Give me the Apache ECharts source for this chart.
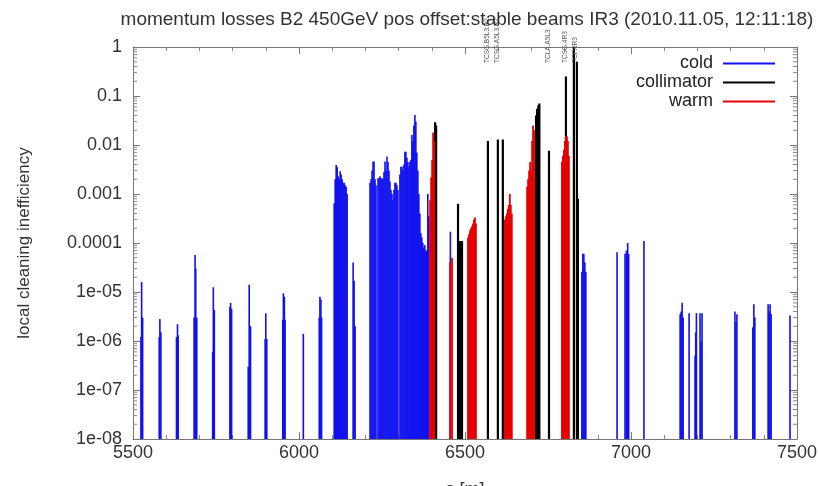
<!DOCTYPE html>
<html>
<head>
<meta charset="utf-8">
<script src="https://cdn.jsdelivr.net/npm/echarts@6/dist/echarts.min.js"></script>
<style>
	html,body{margin:0;padding:0;background:#fff;}
	#main{width:819px;height:486px;}
</style>
</head>
<body>
<div id="main"></div>
<script>
var titleText = 'momentum losses B2 450GeV pos offset:stable beams IR3 (2010.11.05, 12:11:18)';
var xTicks = [5500, 6000, 6500, 7000, 7500];
var yTickLabels = ['1e-08', '1e-07', '1e-06', '1e-05', '0.0001', '0.001', '0.01', '0.1', '1'];

// [s, inefficiency]
var cold = [
	[5524,1.2e-6],[5526,1.6e-5],[5529,3e-6],
	[5579,1.2e-6],[5581,2.8e-6],[5584,1.5e-6],
	[5631,1.2e-6],[5634,2.2e-6],[5636,1.3e-6],
	[5684,3e-6],[5687,5.7e-5],[5689,3e-5],[5692,3e-6],
	[5740,6e-7],[5742,1.25e-5],[5745,4.3e-6],
	[5792,5e-6],[5794,6e-6],[5797,4.5e-6],
	[5847,3e-7],[5850,1.4e-5],[5852,2e-6],[5854,2e-6],
	[5898,1.1e-6],[5900,3.7e-6],[5903,1.1e-6],
	[5951,2.7e-6],[5953,9.4e-6],[5956,8e-6],[5958,2.7e-6],
	[6013,1.4e-6],
	[6061,3e-6],[6063,8e-6],[6066,7e-6],[6068,3e-6],
	[6106,6.5e-4],[6109,2e-3],[6112,3.9e-3],[6115,3.5e-3],[6118,2.3e-3],[6121,2e-3],[6124,2.9e-3],
	[6127,2.5e-3],[6130,2e-3],[6133,1.7e-3],[6136,1.7e-3],[6139,1.5e-3],[6142,1.4e-3],[6145,1e-3],
	[6163,4e-5],[6166,1.7e-5],[6169,2e-6],
	[6214,1.7e-3],[6217,2e-3],[6220,3e-3],[6223,4.6e-3],[6226,4.6e-3],[6229,2e-3],[6232,1.5e-3],
	[6238,2.1e-3],[6241,2.1e-3],[6244,2.3e-3],[6247,2.1e-3],[6250,2e-3],[6253,2.1e-3],[6256,2.8e-3],
	[6259,4.6e-3],[6262,3e-3],[6265,5.8e-3],[6268,4.5e-3],[6271,3e-3],[6274,1.8e-3],[6277,1.2e-3],
	[6280,1e-3],[6283,7.5e-4],[6286,1.2e-3],[6289,1.7e-3],[6292,1.7e-3],[6295,1.5e-3],[6298,1.2e-3],
	[6304,2.5e-3],[6307,3.6e-3],[6310,3.6e-3],[6313,3e-3],[6316,4e-3],[6319,7.3e-3],[6322,7.3e-3],[6325,5.5e-3],
	[6328,4.5e-3],[6331,3.6e-3],[6334,4.5e-3],[6337,5e-3],[6340,0.016],[6343,0.012],[6346,0.025],
	[6349,0.041],[6352,0.03],[6355,7e-3],[6358,3e-3],[6361,1e-3],[6364,4e-4],[6367,1.6e-4],
	[6370,1.3e-4],[6373,1e-4],[6376,8e-5],[6379,9e-5],[6382,7e-5],[6385,7e-5],[6388,1e-3],[6391,3.5e-4],
	[6456,1.7e-4],
	[6852,2.6e-5],[6855,6e-5],[6858,6e-5],[6861,4e-5],[6864,2.6e-5],
	[6958,6.5e-5],
	[6982,6e-5],[6986,7e-5],[6990,1e-4],[6993,6e-5],
	[7039,1.1e-4],
	[7148,3.5e-6],[7151,4e-6],[7154,6e-6],[7157,3e-6],
	[7175,3.7e-6],
	[7193,5e-7],[7195,1.5e-6],[7197,3.7e-6],
	[7208,3.7e-6],[7211,1e-6],[7214,3.7e-6],
	[7313,4e-6],[7316,2.4e-6],[7319,3.5e-6],
	[7367,1.9e-6],[7370,5.6e-6],[7373,3e-6],
	[7413,5.6e-6],[7416,4e-6],[7419,5.6e-6],[7422,3.5e-6],
	[7479,3.3e-6]
];
var collimator = [
	[6410,0.029],[6413,0.025],
	[6479,6.3e-4],[6485,1.1e-4],[6491,1.1e-4],
	[6569,0.012],[6599,0.013],[6614,0.013],
	[6714,0.04],[6717,0.055],[6721,0.065],[6724,0.07],
	[6753,7.6e-3],
	[6804,0.25],[6828,1.0],[6837,0.5],[6840,8e-4]
];
var warm = [
	[6395,7.5e-4],[6398,2.2e-3],[6401,5e-3],[6404,0.018],[6407,0.012],
	[6455,4e-5],[6461,5e-5],
	[6509,1.3e-4],[6512,1.5e-4],[6515,1.8e-4],[6518,2e-4],[6521,2.2e-4],[6524,2.5e-4],[6527,3e-4],[6530,3.3e-4],[6533,2.5e-4],
	[6620,3e-4],[6623,3.5e-4],[6626,4e-4],[6629,5e-4],[6632,6e-4],[6635,1e-3],[6638,6e-4],[6641,4e-4],
	[6687,1.4e-3],[6690,2e-3],[6693,3e-3],[6696,4.5e-3],[6699,3e-3],[6702,0.012],[6705,0.025],[6708,0.02],
	[6792,4.6e-3],[6795,6e-3],[6798,8e-3],[6801,0.012],[6804,0.015],[6807,0.015],[6810,0.012],[6813,6e-3]
];
var collNames = ['TCSG.B5L3.B2', 'TCSG.A5L3.B2', 'TCLA.A5L3', 'TCSG.4R3', 'TCP.6R3'];
var collNamePos = [6569, 6599, 6753, 6804, 6832];

var minorVals = [];
for (var e = -8; e < 0; e++) {
	for (var m = 2; m <= 9; m++) {
		minorVals.push([m * Math.pow(10, e)]);
	}
}

function impulse(width) {
	return function(params, api) {
		var top = api.coord([api.value(0), api.value(1)]);
		var bot = api.coord([api.value(0), 1e-8]);
		return {
			type: 'line',
			shape: {x1: top[0], y1: top[1], x2: bot[0], y2: bot[1]},
			style: {stroke: api.visual('color'), lineWidth: width}
		};
	};
}

var chart = echarts.init(document.getElementById('main'));
var option = {
	animation: false,
	title: {
		text: titleText,
		left: 462, top: 5, textAlign: 'center',
		textStyle: {fontFamily: 'Liberation Sans', fontSize: 19, fontWeight: 'normal', color: '#333'}
	},
	legend: {
		orient: 'vertical', right: 44, top: 54, align: 'right', padding: 0,
		itemWidth: 52, itemHeight: 2, itemGap: 0, icon: 'rect',
		textStyle: {fontFamily: 'Liberation Sans', fontSize: 18, lineHeight: 19, color: '#222', padding: [0, 5, 0, 0]},
		data: ['cold', 'collimator', 'warm']
	},
	grid: {left: 133, right: 22, top: 47, bottom: 47, outerBoundsMode: 'none'},
	xAxis: [{
		type: 'value', min: xTicks[0], max: xTicks[xTicks.length - 1], interval: 500,
		name: 's [m]', nameLocation: 'middle', nameGap: 42,
		nameTextStyle: {fontFamily: 'Liberation Sans', fontSize: 18, color: '#333', verticalAlign: 'top'},
		axisLine: {lineStyle: {color: '#777'}},
		axisTick: {inside: true, length: 7, lineStyle: {color: '#777'}},
		minorTick: {show: true, splitNumber: 5, length: 4, lineStyle: {color: '#888'}},
		splitLine: {show: false},
		axisLabel: {
			margin: 5, fontFamily: 'Liberation Sans', fontSize: 18, color: '#333',
			formatter: function(v) { return String(v); }
		}
	}, {
		type: 'value', position: 'top', min: xTicks[0], max: xTicks[xTicks.length - 1], interval: 500,
		axisLine: {lineStyle: {color: '#777'}},
		axisTick: {inside: true, length: 7, lineStyle: {color: '#777'}},
		minorTick: {show: true, splitNumber: 5, length: 4, lineStyle: {color: '#888'}},
		splitLine: {show: false},
		axisLabel: {show: false}
	}],
	yAxis: [{
		type: 'log', logBase: 10, min: 1e-8, max: 1, interval: 1,
		name: 'local cleaning inefficiency', nameLocation: 'middle', nameGap: 100,
		nameTextStyle: {fontFamily: 'Liberation Sans', fontSize: 17, color: '#333'},
		axisLine: {show: true, lineStyle: {color: '#777'}},
		axisTick: {inside: true, length: 7, lineStyle: {color: '#777'}},
		splitLine: {show: false},
		axisLabel: {
			margin: 11, fontFamily: 'Liberation Sans', fontSize: 18, color: '#333',
			formatter: function(v) {
				var ex = Math.round(Math.log(v) / Math.LN10);
				return yTickLabels[ex + 8];
			}
		}
	}, {
		type: 'log', logBase: 10, min: 1e-8, max: 1, interval: 1, position: 'right',
		axisLine: {show: true, lineStyle: {color: '#777'}},
		axisTick: {inside: true, length: 7, lineStyle: {color: '#777'}},
		splitLine: {show: false},
		axisLabel: {show: false}
	}],
	series: [{
		name: 'minor', type: 'custom', silent: true, legendHoverLink: false,
		data: minorVals,
		renderItem: function(params, api) {
			var l = api.coord([xTicks[0], api.value(0)]);
			var r = api.coord([xTicks[xTicks.length - 1], api.value(0)]);
			return {type: 'group', children: [
				{type: 'line', shape: {x1: l[0], y1: l[1], x2: l[0] + 4, y2: l[1]}, style: {stroke: '#888', lineWidth: 1}},
				{type: 'line', shape: {x1: r[0] - 4, y1: r[1], x2: r[0], y2: r[1]}, style: {stroke: '#888', lineWidth: 1}}
			]};
		},
		encode: {y: 0}
	}, {
		name: 'cold', type: 'custom', color: '#1010f0',
		data: cold, renderItem: impulse(1.6), encode: {x: 0, y: 1}
	}, {
		name: 'collimator', type: 'custom', color: '#000000',
		data: collimator, renderItem: impulse(2.2), encode: {x: 0, y: 1}
	}, {
		name: 'warm', type: 'custom', color: '#e60000',
		data: warm, renderItem: impulse(1.8), encode: {x: 0, y: 1}
	}, {
		name: 'names', type: 'custom', silent: true, clip: false,
		data: collNamePos.map(function(p, i) { return [p, collNames[i]]; }),
		renderItem: function(params, api) {
			var pt = api.coord([api.value(0), 1]);
			return {
				type: 'text', x: pt[0] + 3, y: pt[1] + 16, rotation: Math.PI / 2,
				style: {text: collNames[params.dataIndex], fontSize: 6.5, fontFamily: 'Liberation Sans', fill: '#555', align: 'left', verticalAlign: 'bottom'}
			};
		},
		encode: {x: 0}
	}]
};
chart.setOption(option);
</script>
</body>
</html>
